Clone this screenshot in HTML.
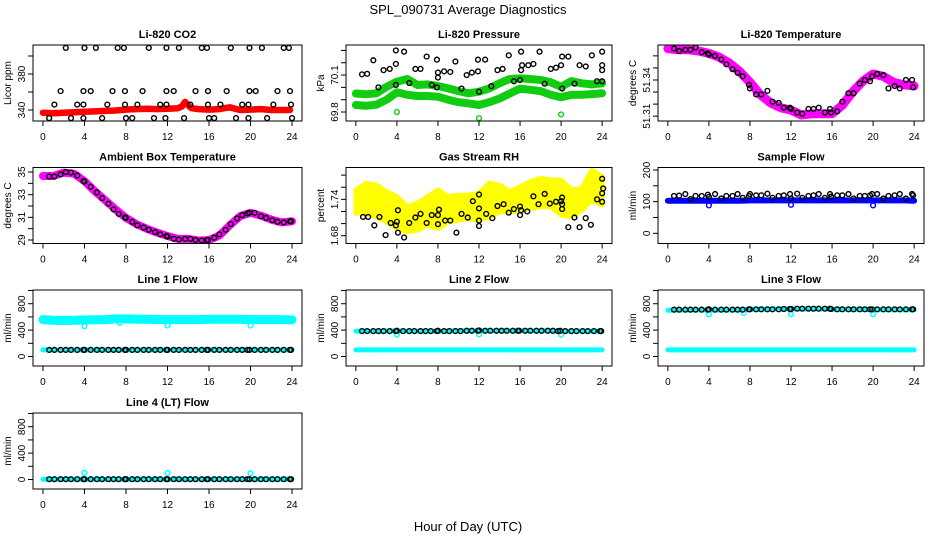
<!DOCTYPE html>
<html><head><meta charset="utf-8"><style>
html,body{margin:0;padding:0;background:#fff;}
svg{display:block;font-family:"Liberation Sans",sans-serif;}
</style></head><body>
<svg id="chart" width="936" height="540" viewBox="0 0 936 540">
<text x="468" y="14" text-anchor="middle" font-size="13">SPL_090731  Average Diagnostics</text>
<text x="468" y="531" text-anchor="middle" font-size="13">Hour of Day (UTC)</text>
</svg>
<script>
const hourly=[0,1,2,3,4,5,6,7,8,9,10,11,12,13,14,15,16,17,18,19,20,21,22,23,24];
const xTicks=[0,4,8,12,16,20,24];
const ptHours=[0.6,1.1,1.7,2.2,2.7,3.3,3.9,4.0,4.6,5.2,5.7,6.3,6.8,7.3,7.9,8.0,8.6,9.1,9.7,10.2,10.8,11.3,11.9,12.0,12.6,13.1,13.7,14.2,14.7,15.3,15.8,15.9,16.5,17.0,17.6,18.1,18.7,19.2,19.7,19.9,20.4,21.0,21.5,22.1,22.6,23.2,23.8,23.9];

// CO2
const co2LineHours=[0,1,2,3,4,5,6,7,8,9,10,11,12,13,13.4,13.7,14.0,14.3,15,16,17,18,19,20,21,22,23,23.8];
const co2LineVals=[337,336.5,337,337.5,338,338.5,339,339.5,340.5,341,341.5,341,341.5,342,344,349,345,342,341,340.5,341,343,340,340.5,341,340,340,340];
const co2PtHours=[2.2,4.0,5.1,7.2,7.8,10.2,11.9,13.1,15.3,15.8,18.1,19.9,21.1,23.2,23.7,1.7,3.9,4.6,6.7,7.9,9.6,11.9,12.6,14.7,15.9,17.7,19.9,20.5,22.6,23.8,1.1,3.3,3.9,6.2,7.9,9.1,11.3,11.9,14.2,15.9,17.1,19.2,19.8,22.2,23.9,0.6,2.7,3.9,5.7,8.0,8.6,10.7,11.8,13.6,16.0,16.5,18.6,19.8,21.6,24.0];
const co2PtVals=[409,409,409,409,409,409,409,409,409,409,409,409,409,409,409,361,361,361,361,361,361,361,361,361,361,361,361,361,361,361,346,346,346,346,346,346,346,346,346,346,346,346,346,346,346,331,331,331,331,331,331,331,331,331,331,331,331,331,331,331];

// Pressure
const presUpper=[69.95,69.944,69.952,70.005,70.046,70.068,70.019,70.024,70.011,69.992,69.97,69.952,69.965,69.992,70.033,70.068,70.073,70.068,70.06,70.041,70.005,70.051,70.033,70.024,70.033];
const presLower=[69.857,69.85,69.86,69.9,69.96,69.94,69.93,69.93,69.924,69.9,69.88,69.87,69.857,69.88,69.91,69.95,69.99,69.98,69.97,69.94,69.92,69.94,69.94,69.945,69.952];
const presPtHours=[0.6,1.1,1.7,2.2,2.7,3.3,3.9,3.9,3.9,4.7,5.2,5.8,6.3,6.9,7.4,7.9,7.9,8.0,8.0,8.6,9.2,9.7,10.3,10.8,11.3,11.9,11.9,12.0,12.6,13.2,13.8,14.3,14.9,15.4,16.0,16.1,16.2,16.1,16.8,17.3,17.9,18.4,19.0,19.5,20.0,20.1,20.1,20.7,21.3,21.8,22.4,23.0,23.5,24.0,24.0,24.0,24.0];
const presPtVals=[70.106,70.11,70.22,70.0,70.14,70.15,70.19,70.30,70.02,70.29,70.035,70.15,70.15,70.25,70.02,70.0,70.225,70.12,70.08,70.13,70.125,70.21,69.99,70.1,70.12,70.13,70.225,69.965,70.225,70.01,70.14,70.15,70.26,70.05,70.06,70.14,70.18,70.29,70.18,70.19,70.29,70.03,70.15,70.16,70.18,70.25,69.99,70.25,70.03,70.18,70.17,70.26,70.05,70.05,70.29,70.18,70.14];
const presOutHours=[4.0,12.0,20.0];
const presOutVals=[69.8,69.75,69.78];

// Li-820 temperature
const ltempLine=[51.366,51.365,51.365,51.364,51.362,51.359,51.354,51.347,51.338,51.328,51.321,51.317,51.315,51.311,51.312,51.312,51.312,51.319,51.330,51.339,51.345,51.343,51.338,51.336,51.335];
const ltempPtVals=[51.366,51.364,51.365,51.365,51.367,51.363,51.362,51.361,51.360,51.357,51.353,51.349,51.346,51.343,51.336,51.333,51.328,51.328,51.331,51.322,51.321,51.317,51.317,51.316,51.313,51.312,51.316,51.316,51.317,51.313,51.316,51.313,51.314,51.322,51.329,51.329,51.337,51.340,51.339,51.343,51.345,51.344,51.333,51.335,51.333,51.340,51.340,51.334];

// Ambient temperature
const ambLine=[34.65,34.65,34.95,34.85,34.2,33.3,32.5,31.7,30.95,30.4,30.0,29.65,29.35,29.1,29.1,28.95,29.0,29.4,30.3,31.1,31.4,31.15,30.8,30.55,30.65];
const ambPtVals=[34.6,34.6,34.8,35.0,34.95,34.7,34.2,34.15,33.7,33.2,32.7,32.2,31.7,31.3,31.0,30.95,30.6,30.3,30.1,29.9,29.7,29.5,29.35,29.3,29.1,29.05,29.1,29.1,29.0,28.95,29.0,29.0,29.2,29.5,29.9,30.4,30.9,31.2,31.35,31.4,31.4,31.1,30.95,30.75,30.6,30.55,30.65,30.65];

// Gas stream RH
const rhUpper=[1.7554,1.7664,1.7636,1.7526,1.7443,1.7278,1.7334,1.7443,1.7554,1.7443,1.7471,1.7471,1.7499,1.7664,1.7636,1.7526,1.7608,1.7691,1.7747,1.7719,1.7719,1.7554,1.7582,1.7884,1.7774];
const rhLower=[1.7169,1.7169,1.7112,1.703,1.692,1.6864,1.6893,1.6975,1.692,1.703,1.7058,1.7086,1.7058,1.7112,1.7195,1.7195,1.7223,1.7251,1.7278,1.7278,1.7141,1.7112,1.7223,1.7388,1.7306];
const rhPtHours=[0.7,1.2,1.8,2.3,2.9,3.4,3.9,4.0,4.1,4.1,4.7,5.2,5.8,6.3,6.9,7.4,8.0,8.0,8.1,8.7,9.2,9.8,10.3,10.9,11.4,12.0,12.0,12.0,12.0,12.7,13.3,13.8,14.4,14.9,15.4,16.0,16.0,16.1,16.7,17.3,17.8,18.4,18.9,19.5,20.0,20.1,20.1,20.1,20.7,21.3,21.8,22.4,22.9,23.5,24.0,24.0,24.1,24.0];
const rhPtVals=[1.711,1.711,1.697,1.711,1.681,1.701,1.697,1.703,1.722,1.685,1.677,1.701,1.710,1.716,1.701,1.714,1.714,1.699,1.723,1.705,1.705,1.685,1.716,1.710,1.737,1.725,1.705,1.696,1.748,1.716,1.709,1.729,1.732,1.718,1.724,1.728,1.714,1.722,1.720,1.745,1.732,1.749,1.733,1.736,1.737,1.743,1.732,1.724,1.694,1.710,1.694,1.709,1.698,1.740,1.736,1.774,1.758,1.750];

// Sample flow
const sampleLine=[103,103,103,103,103,103,103,103,104,104,104,104,104,104,104,104,104,104,104,104,104,104,104,104,103];
const sampleDipHours=[4.0,12.0,20.0];
const sampleDipVals=[88,90,88];
const samplePtVals=[118,119,124,108,118,118,122,115,124,110,118,118,124,112,118,124,120,120,125,112,118,120,124,110,125,112,118,120,124,112,124,116,120,120,124,110,118,118,120,124,124,110,118,120,124,110,124,120];

// Line flows
const line1Upper=[560,550,545,550,555,555,560,570,570,565,565,560,560,560,560,560,565,565,565,565,560,560,560,560,555];
const line1Lower=[100,100,100,100,100,100,100,100,100,100,100,100,100,100,100,100,100,100,100,100,100,100,100,100,100];
const line1DipHours=[4.0,7.4,12.0,20.0];
const line1DipVals=[460,510,470,470];
const line1PtVals=[100,100,100,100,100,100,100,100,100,100,100,100,100,100,100,100,100,100,100,100,100,100,100,100,100,100,100,100,100,100,100,100,100,100,100,100,100,100,100,100,100,100,100,100,100,100,100,100];
const line2Upper=[385,385,385,385,385,385,385,385,385,385,390,390,390,390,390,390,390,390,390,390,385,385,385,385,385];
const line2Lower=[100,100,100,100,100,100,100,100,100,100,100,100,100,100,100,100,100,100,100,100,100,100,100,100,100];
const line2DipHours=[4.0,12.0,20.0];
const line2DipVals=[330,335,330];
const line2PtVals=[385,385,385,385,385,385,385,390,385,385,385,385,385,385,385,390,385,385,385,385,390,390,390,395,390,390,390,390,390,390,390,390,390,390,390,390,390,390,385,390,385,385,385,385,385,385,385,385];
const line3Upper=[700,705,705,705,705,705,705,710,715,715,720,720,720,720,720,720,715,715,715,715,710,710,710,710,710];
const line3Lower=[100,100,100,100,100,100,100,100,100,100,100,100,100,100,100,100,100,100,100,100,100,100,100,100,100];
const line3DipHours=[4.0,7.4,12.0,20.0];
const line3DipVals=[640,660,640,640];
const line3PtVals=[710,710,710,710,710,710,710,715,710,710,710,710,710,710,715,715,715,715,715,715,715,720,720,720,725,725,725,725,725,725,725,720,715,715,715,715,715,715,715,715,715,715,715,715,715,715,715,715];
const line4Line=[5,5,5,5,5,5,5,5,5,5,5,5,5,5,5,5,5,5,5,5,5,5,5,5,5];
const line4SpikeHours=[4.0,12.0,20.0];
const line4SpikeVals=[100,100,95];
const line4PtVals=[5,5,5,5,5,5,5,5,5,5,5,5,5,5,5,5,5,5,5,5,5,5,5,5,5,5,5,5,5,5,5,5,5,5,5,5,5,5,5,5,5,5,5,5,5,5,5,5];

const NS="http://www.w3.org/2000/svg";
const svg=document.getElementById('chart');
const cols=[[33,302],[346,612],[658,924]];
const rows=[[45,121],[167.5,243.5],[290,366],[413,489]];
function mk(tag,attrs,parent){const e=document.createElementNS(NS,tag);for(const k in attrs)e.setAttribute(k,attrs[k]);parent.appendChild(e);return e;}

function panel(c,r,title,ytitle,ymin,ymax,ticks,labels,name){
  const [bx0,bx1]=cols[c],[by0,by1]=rows[r];
  const g=mk('g',{},svg);
  
  
  const X=h=>bx0+(h+0.96)/25.92*(bx1-bx0);
  const Y=v=>by1-(v-ymin)/(ymax-ymin)*(by1-by0);
  const clipId='clip'+c+r;
  const cp=mk('clipPath',{id:clipId},g);
  mk('rect',{x:bx0,y:by0,width:bx1-bx0,height:by1-by0},cp);
  const plot=mk('g',{'clip-path':'url(#'+clipId+')'},g);
  
  
  const box=mk('rect',{x:bx0,y:by0,width:bx1-bx0,height:by1-by0,fill:'none',stroke:'#000','stroke-width':1},g);
  
  
  const t=mk('text',{x:(bx0+bx1)/2,y:by0-7,'text-anchor':'middle','font-size':11,'font-weight':'bold'},g);
  t.textContent=title;
  
  
  const yt=mk('text',{x:0,y:0,'text-anchor':'middle','font-size':10,transform:`translate(${bx0-22},${(by0+by1)/2}) rotate(-90)`},g);
  yt.textContent=ytitle;
  
  
  const xa=mk('g',{},g);
  
  
  mk('line',{x1:X(0),x2:X(24),y1:by1,y2:by1,stroke:'#000'},xa);
  xTicks.forEach(h=>{
    mk('line',{x1:X(h),x2:X(h),y1:by1,y2:by1+5,stroke:'#000'},xa);
    const l=mk('text',{x:X(h),y:by1+19,'text-anchor':'middle','font-size':10},xa);
    l.textContent=h;
    
    
  });
  const ya=mk('g',{},g);
  
  
  mk('line',{x1:bx0,x2:bx0,y1:Y(ticks[0]),y2:Y(ticks[ticks.length-1]),stroke:'#000'},ya);
  ticks.forEach((v,i)=>{
    mk('line',{x1:bx0-5,x2:bx0,y1:Y(v),y2:Y(v),stroke:'#000'},ya);
    if(labels[i]!==''){
      const l=mk('text',{x:0,y:0,'text-anchor':'middle','font-size':10,transform:`translate(${bx0-8},${Y(v)}) rotate(-90)`},ya);
      l.textContent=labels[i];
      
      
    }
  });
  return {X,Y,plot};
}
function line(p,hs,vs,color,w,name){
  const d=hs.map((h,i)=>(i?'L':'M')+p.X(h).toFixed(1)+','+p.Y(vs[i]).toFixed(1)).join('');
  const e=mk('path',{d,fill:'none',stroke:color,'stroke-width':w,'stroke-linejoin':'round','stroke-linecap':'round'},p.plot);
  
  
}
function band(p,hs,lo,hi,color,name){
  const d=hs.map((h,i)=>(i?'L':'M')+p.X(h).toFixed(1)+','+p.Y(hi[i]).toFixed(1)).join('')+
    hs.slice().reverse().map((h,j)=>{const i=hs.length-1-j;return 'L'+p.X(h).toFixed(1)+','+p.Y(lo[i]).toFixed(1);}).join('')+'Z';
  const e=mk('path',{d,fill:color,stroke:color,'stroke-width':5,'stroke-linejoin':'round'},p.plot);
  
  
}
function pts(p,hs,vs,color,name){
  const g=mk('g',{},p.plot);
  
  
  hs.forEach((h,i)=>{
    const c=mk('circle',{cx:p.X(h),cy:p.Y(vs[i]),r:2.4,fill:'none',stroke:color,'stroke-width':1.4},g);
    
    
  });
}

let p=panel(0,0,'Li-820 CO2','Licor ppm',327.8,412.2,[340,360,380,400],['340','','380',''],'co2');
line(p,co2LineHours,co2LineVals,'#f00',6.5,'co2-series');
pts(p,co2PtHours,co2PtVals,'#000','co2-points');
p=panel(1,0,'Li-820 Pressure','kPa',69.727,70.344,[69.8,69.9,70.0,70.1,70.2,70.3],['69.8','','','70.1','',''],'pressure');
line(p,hourly,presUpper,'#1c1',8,'pressure-upper-series');
line(p,hourly,presLower,'#1c1',8,'pressure-lower-series');
pts(p,presOutHours,presOutVals,'#1c1','pressure-green-outliers');
pts(p,presPtHours,presPtVals,'#000','pressure-points');
p=panel(2,0,'Li-820 Temperature','degrees C',51.306,51.369,[51.31,51.32,51.33,51.34,51.35,51.36],['51.31','','','51.34','',''],'licor-temp');
line(p,hourly,ltempLine,'#f0f',9,'licor-temp-series');
pts(p,ptHours,ltempPtVals,'#000','licor-temp-points');
p=panel(0,1,'Ambient Box Temperature','degrees C',28.69,35.40,[29,30,31,32,33,34,35],['29','','31','','33','','35'],'ambient-temp');
line(p,hourly,ambLine,'#f0f',8,'ambient-temp-series');
pts(p,ptHours,ambPtVals,'#000','ambient-temp-points');
p=panel(1,1,'Gas Stream RH','percent',1.6671,1.7926,[1.68,1.70,1.72,1.74,1.76,1.78],['1.68','','','1.74','',''],'rh');
band(p,hourly,rhLower,rhUpper,'#ff0','rh-series');
pts(p,rhPtHours,rhPtVals,'#000','rh-points');
p=panel(2,1,'Sample Flow','ml/min',-32.2,207.8,[0,50,100,150,200],['0','','100','','200'],'sample-flow');
line(p,hourly,sampleLine,'#00f',6,'sample-flow-series');
pts(p,sampleDipHours,sampleDipVals,'#00f','sample-flow-dips');
pts(p,ptHours,samplePtVals,'#000','sample-flow-points');
const lt=[0,200,400,600,800,1000], ll=['0','','400','','800',''];
p=panel(0,2,'Line 1 Flow','ml/min',-144,1008,lt,ll,'line1-flow');
line(p,hourly,line1Upper,'#0ff',9,'line1-upper-series');
line(p,hourly,line1Lower,'#0ff',5,'line1-lower-series');
pts(p,line1DipHours,line1DipVals,'#0ff','line1-dips');
pts(p,ptHours,line1PtVals,'#000','line1-points');
p=panel(1,2,'Line 2 Flow','ml/min',-144,1008,lt,ll,'line2-flow');
line(p,hourly,line2Upper,'#0ff',5,'line2-upper-series');
line(p,hourly,line2Lower,'#0ff',5,'line2-lower-series');
pts(p,line2DipHours,line2DipVals,'#0ff','line2-dips');
pts(p,ptHours,line2PtVals,'#000','line2-points');
p=panel(2,2,'Line 3 Flow','ml/min',-144,1008,lt,ll,'line3-flow');
line(p,hourly,line3Upper,'#0ff',5,'line3-upper-series');
line(p,hourly,line3Lower,'#0ff',5,'line3-lower-series');
pts(p,line3DipHours,line3DipVals,'#0ff','line3-dips');
pts(p,ptHours,line3PtVals,'#000','line3-points');
p=panel(0,3,'Line 4 (LT) Flow','ml/min',-144,1008,lt,ll,'line4-flow');
line(p,hourly,line4Line,'#0ff',5,'line4-series');
pts(p,line4SpikeHours,line4SpikeVals,'#0ff','line4-spikes');
pts(p,ptHours,line4PtVals,'#000','line4-points');
</script>
</body></html>
